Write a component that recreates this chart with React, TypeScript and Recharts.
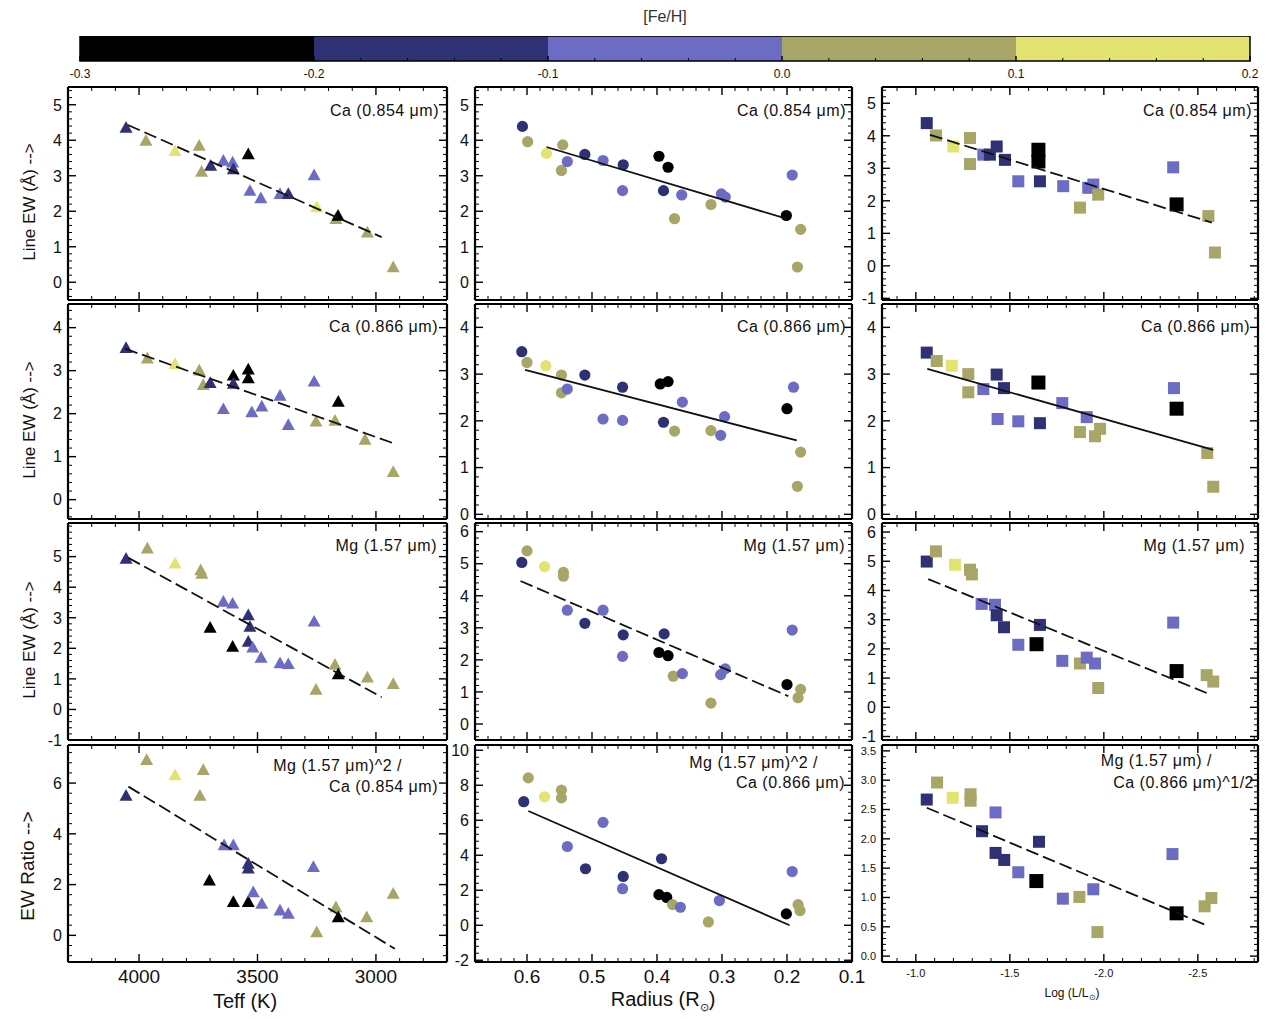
import React from 'react';
import { ScatterChart, Scatter, XAxis, YAxis, ReferenceArea } from 'recharts';

type P = [number, number, number]; // x, y, [Fe/H] bin index
type F = [number, number];

// ---------- [Fe/H] colour bins ----------
const FEH_COLORS = ['#000000', '#2e3274', '#6c6cc4', '#a8a667', '#e3e372'];
const FEH_EDGES = [-0.3, -0.2, -0.1, 0.0, 0.1, 0.2];
const FEH_TICKS = [-0.3, -0.2, -0.1, 0.0, 0.1, 0.2];

// ---------- x tick labels ----------
const TEFF_TICKS = [4000, 3500, 3000];
const RADIUS_TICKS = [0.6, 0.5, 0.4, 0.3, 0.2, 0.1];
const LUM_TICKS = [-1.0, -1.5, -2.0, -2.5];

// ---------- Row 1: Ca (0.854 um) ----------
const teffCa854: P[] = [
  [4055, 4.36, 1], [3971, 3.99, 3], [3848, 3.7, 4], [3746, 3.85, 3], [3736, 3.12, 3], [3698, 3.29, 1],
  [3644, 3.43, 2], [3605, 3.38, 2], [3602, 3.19, 1], [3539, 3.61, 0], [3532, 2.58, 2], [3486, 2.37, 2],
  [3405, 2.49, 2], [3370, 2.49, 1], [3261, 3.02, 2], [3250, 2.12, 4], [3169, 1.79, 3], [3160, 1.88, 0],
  [3036, 1.41, 3], [2927, 0.43, 3],
];
const radCa854: P[] = [
  [0.607, 4.39, 1], [0.599, 3.96, 3], [0.57, 3.63, 4], [0.545, 3.87, 3], [0.547, 3.15, 3], [0.538, 3.4, 2],
  [0.511, 3.6, 1], [0.483, 3.43, 2], [0.452, 3.31, 1], [0.453, 2.58, 2], [0.397, 3.55, 0], [0.383, 3.24, 0],
  [0.39, 2.58, 1], [0.362, 2.46, 2], [0.373, 1.79, 3], [0.317, 2.19, 3], [0.301, 2.49, 2], [0.295, 2.4, 2],
  [0.201, 1.88, 0], [0.192, 3.02, 2], [0.179, 1.49, 3], [0.184, 0.43, 3],
];
const lumCa854: P[] = [
  [-1.058, 4.39, 1], [-1.107, 4.01, 3], [-1.199, 3.67, 4], [-1.288, 3.93, 3], [-1.288, 3.13, 3], [-1.359, 3.42, 2],
  [-1.394, 3.42, 1], [-1.43, 3.67, 1], [-1.474, 3.26, 1], [-1.545, 2.6, 2], [-1.652, 3.57, 0], [-1.652, 3.21, 0],
  [-1.66, 2.6, 1], [-1.784, 2.45, 2], [-1.873, 1.79, 3], [-1.917, 2.4, 2], [-1.944, 2.5, 2], [-1.97, 2.19, 3],
  [-2.369, 3.03, 2], [-2.387, 1.89, 0], [-2.556, 1.53, 3], [-2.591, 0.41, 3],
];
const fitTeffCa854: F[] = [[4047, 4.43], [2976, 1.27]];
const fitRadCa854: F[] = [[0.57, 3.81], [0.201, 1.79]];
const fitLumCa854: F[] = [[-1.075, 4.03], [-2.574, 1.33]];

// ---------- Row 2: Ca (0.866 um) ----------
const teffCa866: P[] = [
  [4055, 3.53, 1], [3965, 3.29, 3], [3848, 3.16, 4], [3746, 3.01, 3], [3729, 2.67, 3], [3700, 2.72, 1],
  [3644, 2.11, 2], [3602, 2.89, 0], [3602, 2.7, 1], [3539, 3.03, 0], [3539, 2.83, 0], [3524, 2.04, 2],
  [3482, 2.17, 2], [3405, 2.42, 2], [3370, 1.74, 2], [3261, 2.75, 2], [3253, 1.82, 3], [3173, 1.84, 3],
  [3159, 2.28, 0], [3046, 1.4, 3], [2927, 0.65, 3],
];
const radCa866: P[] = [
  [0.608, 3.48, 1], [0.6, 3.25, 3], [0.571, 3.18, 4], [0.547, 2.98, 3], [0.547, 2.6, 3], [0.538, 2.68, 2],
  [0.511, 2.98, 1], [0.483, 2.04, 2], [0.453, 2.72, 1], [0.453, 2.01, 2], [0.395, 2.79, 0], [0.383, 2.84, 0],
  [0.39, 1.97, 1], [0.361, 2.4, 2], [0.373, 1.78, 3], [0.317, 1.79, 3], [0.296, 2.09, 2], [0.302, 1.69, 2],
  [0.2, 2.26, 0], [0.19, 2.72, 2], [0.179, 1.33, 3], [0.184, 0.6, 3],
];
const lumCa866: P[] = [
  [-1.058, 3.46, 1], [-1.111, 3.28, 3], [-1.191, 3.18, 4], [-1.279, 3.0, 3], [-1.279, 2.61, 3], [-1.359, 2.68, 2],
  [-1.43, 2.99, 1], [-1.469, 2.7, 1], [-1.435, 2.04, 2], [-1.545, 1.99, 2], [-1.652, 2.82, 0], [-1.66, 1.95, 1],
  [-1.779, 2.38, 2], [-1.873, 1.76, 3], [-1.909, 2.08, 2], [-1.953, 1.67, 3], [-1.98, 1.83, 3], [-2.373, 2.7, 2],
  [-2.387, 2.26, 0], [-2.55, 1.31, 3], [-2.582, 0.59, 3],
];
const fitTeffCa866: F[] = [[4059, 3.51], [2920, 1.3]];
const fitRadCa866: F[] = [[0.603, 3.09], [0.185, 1.58]];
const fitLumCa866: F[] = [[-1.061, 3.11], [-2.582, 1.38]];

// ---------- Row 3: Mg (1.57 um) ----------
const teffMg: P[] = [
  [4055, 4.94, 1], [3965, 5.27, 3], [3848, 4.78, 4], [3740, 4.56, 3], [3735, 4.45, 3], [3644, 3.53, 2],
  [3605, 3.47, 2], [3700, 2.68, 0], [3539, 3.09, 1], [3532, 2.71, 1], [3605, 2.06, 0], [3539, 2.22, 1],
  [3520, 2.03, 2], [3485, 1.7, 2], [3405, 1.52, 2], [3370, 1.49, 2], [3261, 2.88, 2], [3253, 0.65, 3],
  [3173, 1.47, 3], [3159, 1.16, 0], [3036, 1.05, 3], [2927, 0.84, 3],
];
const radMg: P[] = [
  [0.608, 5.04, 1], [0.6, 5.4, 3], [0.573, 4.91, 4], [0.544, 4.73, 3], [0.544, 4.61, 3], [0.538, 3.55, 2],
  [0.511, 3.14, 1], [0.483, 3.55, 2], [0.452, 2.78, 1], [0.453, 2.11, 2], [0.389, 2.81, 1], [0.397, 2.23, 0],
  [0.383, 2.13, 0], [0.375, 1.49, 3], [0.361, 1.57, 2], [0.317, 0.65, 3], [0.302, 1.54, 2], [0.295, 1.72, 2],
  [0.2, 1.23, 0], [0.192, 2.93, 2], [0.179, 1.08, 3], [0.183, 0.82, 3],
];
const lumMg: P[] = [
  [-1.058, 4.99, 1], [-1.107, 5.34, 3], [-1.208, 4.88, 4], [-1.288, 4.71, 3], [-1.298, 4.55, 3], [-1.35, 3.54, 2],
  [-1.421, 3.51, 2], [-1.43, 3.15, 1], [-1.469, 2.74, 1], [-1.545, 2.14, 2], [-1.66, 2.82, 1], [-1.642, 2.16, 0],
  [-1.779, 1.59, 2], [-1.873, 1.5, 3], [-1.909, 1.7, 2], [-1.953, 1.5, 2], [-1.97, 0.66, 3], [-2.369, 2.9, 2],
  [-2.387, 1.24, 0], [-2.547, 1.1, 3], [-2.582, 0.88, 3],
];
const fitTeffMg: F[] = [[4045, 4.96], [2976, 0.4]];
const fitRadMg: F[] = [[0.61, 4.46], [0.198, 0.87]];
const fitLumMg: F[] = [[-1.066, 4.39], [-2.547, 0.49]];

// ---------- Row 4: EW ratios ----------
const teffRatio: P[] = [
  [4055, 5.51, 1], [3968, 6.92, 3], [3848, 6.32, 4], [3729, 6.52, 3], [3743, 5.51, 3], [3703, 2.17, 0],
  [3641, 3.56, 2], [3602, 3.56, 2], [3539, 2.83, 1], [3539, 2.64, 1], [3602, 1.32, 0], [3539, 1.32, 0],
  [3518, 1.71, 2], [3482, 1.25, 2], [3405, 0.99, 2], [3370, 0.86, 2], [3264, 2.7, 2], [3250, 0.13, 3],
  [3169, 1.12, 3], [3159, 0.72, 0], [3039, 0.72, 3], [2927, 1.65, 3],
];
const radRatio: P[] = [
  [0.605, 7.06, 1], [0.598, 8.42, 3], [0.573, 7.34, 4], [0.547, 7.72, 3], [0.547, 7.28, 3], [0.538, 4.5, 2],
  [0.51, 3.23, 1], [0.483, 5.88, 2], [0.452, 2.79, 1], [0.453, 2.09, 2], [0.393, 3.8, 1], [0.397, 1.75, 0],
  [0.385, 1.59, 0], [0.376, 1.18, 3], [0.364, 1.03, 2], [0.321, 0.19, 3], [0.304, 1.41, 2], [0.201, 0.65, 0],
  [0.192, 3.07, 2], [0.183, 1.18, 3], [0.18, 0.84, 3],
];
const lumRatio: P[] = [
  [-1.058, 2.67, 1], [-1.113, 2.96, 3], [-1.196, 2.7, 4], [-1.291, 2.76, 3], [-1.291, 2.65, 3], [-1.424, 2.45, 2],
  [-1.352, 2.13, 1], [-1.424, 1.76, 1], [-1.47, 1.64, 1], [-1.545, 1.43, 2], [-1.655, 1.95, 1], [-1.641, 1.28, 0],
  [-1.782, 0.98, 2], [-1.87, 1.01, 3], [-1.944, 1.14, 2], [-1.966, 0.41, 3], [-2.365, 1.74, 2], [-2.387, 0.73, 0],
  [-2.536, 0.85, 3], [-2.572, 0.99, 3],
];
const fitTeffRatio: F[] = [[4045, 5.86], [2920, -0.53]];
const fitRadRatio: F[] = [[0.598, 6.53], [0.196, 0.0]];
const fitLumRatio: F[] = [[-1.058, 2.53], [-2.558, 0.51]];

// ---------- y tick labels ----------
const Y_R1 = [0, 1, 2, 3, 4, 5];
const Y_R1C3 = [-1, 0, 1, 2, 3, 4, 5];
const Y_R2 = [0, 1, 2, 3, 4];
const Y_R3C1 = [-1, 0, 1, 2, 3, 4, 5];
const Y_R3C2 = [0, 1, 2, 3, 4, 5, 6];
const Y_R3C3 = [-1, 0, 1, 2, 3, 4, 5, 6];
const Y_R4C1 = [0, 2, 4, 6];
const Y_R4C2 = [-2, 0, 2, 4, 6, 8, 10];
const Y_R4C3 = [0.0, 0.5, 1.0, 1.5, 2.0, 2.5, 3.0, 3.5];

// ================= layout & styling =================
const FONT = '"Liberation Sans", Arial, Helvetica, sans-serif';
const COLS = [
  { l: 68, r: 447, domain: [2700, 4300] as [number, number], majors: TEFF_TICKS, minor: 100, fmt: (v: number) => String(v), fs: 19, shape: 'tri' },
  { l: 475, r: 852, domain: [0.1, 0.68] as [number, number], majors: RADIUS_TICKS, minor: 0.02, fmt: (v: number) => v.toFixed(1), fs: 19, shape: 'circ' },
  { l: 882, r: 1258, domain: [-2.82, -0.82] as [number, number], majors: LUM_TICKS, minor: 0.1, fmt: (v: number) => v.toFixed(1), fs: 11, shape: 'sq' },
];
const ROWS = [
  { t: 87, b: 300 },
  { t: 304, b: 519 },
  { t: 523, b: 740 },
  { t: 745, b: 962 },
];

function allTicks(domain: [number, number], majors: number[], step: number): number[] {
  const [lo, hi] = domain;
  const out: number[] = [];
  const start = Math.ceil(lo / step - 1e-9);
  const end = Math.floor(hi / step + 1e-9);
  for (let i = start; i <= end; i++) out.push(+(i * step).toFixed(6));
  majors.forEach((m) => {
    if (m >= lo - 1e-9 && m <= hi + 1e-9 && !out.some((o) => Math.abs(o - m) < 1e-6)) out.push(m);
  });
  return out.sort((a, b) => a - b);
}

function makeTick(side: 'b' | 't' | 'l' | 'r', majors: number[], margin: number, fmt: ((v: number) => string) | null, fs = 16, majorLen = 8, minorLen = 4) {
  return (props: any) => {
    const { x, y, payload } = props;
    const v = payload.value as number;
    const isMajor = majors.some((m) => Math.abs(m - v) < 1e-6);
    const len = isMajor ? majorLen : minorLen;
    const sw = isMajor ? 1.4 : 1;
    let line: React.ReactNode = null;
    let label: React.ReactNode = null;
    if (side === 'b') {
      const ay = y - margin;
      line = <line x1={x} y1={ay} x2={x} y2={ay - len} stroke="#000" strokeWidth={sw} />;
      if (isMajor && fmt) label = <text x={x} y={ay + margin} dy="0.8em" textAnchor="middle" fontSize={fs} fill="#111" fontFamily={FONT}>{fmt(v)}</text>;
    } else if (side === 't') {
      line = <line x1={x} y1={y} x2={x} y2={y + len} stroke="#000" strokeWidth={sw} />;
    } else if (side === 'l') {
      const ax = x + margin;
      line = <line x1={ax} y1={y} x2={ax + len} y2={y} stroke="#000" strokeWidth={sw} />;
      if (isMajor && fmt) label = <text x={ax - margin} y={y} dy="0.36em" textAnchor="end" fontSize={fs} fill="#111" fontFamily={FONT}>{fmt(v)}</text>;
    } else {
      line = <line x1={x} y1={y} x2={x - len} y2={y} stroke="#000" strokeWidth={sw} />;
    }
    return <g>{line}{label}</g>;
  };
}

const triShape = (p: any) => {
  const { cx, cy, payload } = p;
  if (cx == null || cy == null) return <g />;
  const s = 6.5;
  return <polygon points={`${cx},${cy - s} ${cx - s},${cy + s * 0.8} ${cx + s},${cy + s * 0.8}`} fill={FEH_COLORS[payload.c]} />;
};
const circShape = (p: any) => {
  const { cx, cy, payload } = p;
  if (cx == null || cy == null) return <g />;
  return <circle cx={cx} cy={cy} r={5.6} fill={FEH_COLORS[payload.c]} />;
};
const sqShape = (p: any) => {
  const { cx, cy, payload } = p;
  if (cx == null || cy == null) return <g />;
  const h = payload.c === 0 ? 7 : 6;
  return <rect x={cx - h} y={cy - h} width={2 * h} height={2 * h} fill={FEH_COLORS[payload.c]} />;
};
const emptyShape = () => <g />;

const toPts = (a: P[]) => a.map(([x, y, c]) => ({ x, y, c }));
const toFit = (a: F[]) => a.map(([x, y]) => ({ x, y }));

interface PanelProps {
  row: number;
  col: number;
  pts: P[];
  fit: F[];
  yDomain: [number, number];
  yMajors: number[];
  yMinor: number;
  yFmt: (v: number) => string;
  yFs: number;
  dash: string;
}

function Panel({ row, col, pts, fit, yDomain, yMajors, yMinor, yFmt, yFs, dash }: PanelProps) {
  const c = COLS[col];
  const r = ROWS[row];
  const LW = 44, BH = 46, TH = 2, RW = 2, MR = 16;
  const w = c.r - c.l + LW + RW + MR;
  const h = r.b - r.t + TH + BH;
  const xTicks = allTicks(c.domain, c.majors, c.minor);
  const yTicks = allTicks(yDomain, yMajors, yMinor);
  const showX = row === 3;
  const shape = c.shape === 'tri' ? triShape : c.shape === 'circ' ? circShape : sqShape;
  const axisLine = { stroke: '#000', strokeWidth: 2.2 };
  return (
    <div style={{ position: 'absolute', left: c.l - LW, top: r.t - TH, width: w, height: h }}>
      <ScatterChart width={w} height={h} margin={{ top: 0, right: MR, bottom: 0, left: 0 }}>
        <XAxis xAxisId="b" type="number" dataKey="x" domain={c.domain} reversed allowDataOverflow ticks={xTicks} interval={0}
          orientation="bottom" height={BH} tickSize={0} tickMargin={6} tickLine={false} axisLine={axisLine}
          tick={makeTick('b', c.majors, 6, showX ? c.fmt : null, c.fs)} />
        <XAxis xAxisId="t" type="number" dataKey="x" domain={c.domain} reversed allowDataOverflow ticks={xTicks} interval={0}
          orientation="top" height={TH} tickSize={0} tickMargin={0} tickLine={false} axisLine={axisLine}
          tick={makeTick('t', c.majors, 0, null)} />
        <YAxis yAxisId="l" type="number" dataKey="y" domain={yDomain} allowDataOverflow ticks={yTicks} interval={0}
          orientation="left" width={LW} tickSize={0} tickMargin={6} tickLine={false} axisLine={axisLine}
          tick={makeTick('l', yMajors, 6, yFmt, yFs)} />
        <YAxis yAxisId="r" type="number" dataKey="y" domain={yDomain} allowDataOverflow ticks={yTicks} interval={0}
          orientation="right" width={RW} tickSize={0} tickMargin={0} tickLine={false} axisLine={axisLine}
          tick={makeTick('r', yMajors, 0, null)} />
        <Scatter xAxisId="b" yAxisId="l" data={toPts(pts)} shape={shape} isAnimationActive={false} />
        <Scatter xAxisId="t" yAxisId="r" data={toFit(fit)} shape={emptyShape} isAnimationActive={false}
          line={{ stroke: '#111', strokeWidth: 1.8, strokeDasharray: dash }} />
      </ScatterChart>
    </div>
  );
}

const DASH = '13 5';
const SOLID = '0';
const intFmt = (v: number) => String(v);
const decFmt = (v: number) => v.toFixed(1);

const PANELS: PanelProps[] = [
  { row: 0, col: 0, pts: teffCa854, fit: fitTeffCa854, yDomain: [-0.5, 5.5], yMajors: Y_R1, yMinor: 0.2, yFmt: intFmt, yFs: 16, dash: DASH },
  { row: 0, col: 1, pts: radCa854, fit: fitRadCa854, yDomain: [-0.5, 5.5], yMajors: Y_R1, yMinor: 0.2, yFmt: intFmt, yFs: 16, dash: SOLID },
  { row: 0, col: 2, pts: lumCa854, fit: fitLumCa854, yDomain: [-1.05, 5.5], yMajors: Y_R1C3, yMinor: 0.2, yFmt: intFmt, yFs: 16, dash: DASH },
  { row: 1, col: 0, pts: teffCa866, fit: fitTeffCa866, yDomain: [-0.45, 4.55], yMajors: Y_R2, yMinor: 0.2, yFmt: intFmt, yFs: 16, dash: DASH },
  { row: 1, col: 1, pts: radCa866, fit: fitRadCa866, yDomain: [-0.1, 4.5], yMajors: Y_R2, yMinor: 0.2, yFmt: intFmt, yFs: 16, dash: SOLID },
  { row: 1, col: 2, pts: lumCa866, fit: fitLumCa866, yDomain: [-0.1, 4.5], yMajors: Y_R2, yMinor: 0.2, yFmt: intFmt, yFs: 16, dash: SOLID },
  { row: 2, col: 0, pts: teffMg, fit: fitTeffMg, yDomain: [-1, 6.1], yMajors: Y_R3C1, yMinor: 0.2, yFmt: intFmt, yFs: 16, dash: DASH },
  { row: 2, col: 1, pts: radMg, fit: fitRadMg, yDomain: [-0.5, 6.27], yMajors: Y_R3C2, yMinor: 0.2, yFmt: intFmt, yFs: 16, dash: DASH },
  { row: 2, col: 2, pts: lumMg, fit: fitLumMg, yDomain: [-1.12, 6.31], yMajors: Y_R3C3, yMinor: 0.2, yFmt: intFmt, yFs: 16, dash: DASH },
  { row: 3, col: 0, pts: teffRatio, fit: fitTeffRatio, yDomain: [-1.05, 7.5], yMajors: Y_R4C1, yMinor: 0.4, yFmt: intFmt, yFs: 16, dash: DASH },
  { row: 3, col: 1, pts: radRatio, fit: fitRadRatio, yDomain: [-2.1, 10.3], yMajors: Y_R4C2, yMinor: 0.4, yFmt: intFmt, yFs: 16, dash: SOLID },
  { row: 3, col: 2, pts: lumRatio, fit: fitLumRatio, yDomain: [-0.1, 3.6], yMajors: Y_R4C3, yMinor: 0.1, yFmt: decFmt, yFs: 11, dash: DASH },
];

const ANNOTATIONS: { text: string; right: number; y: number }[] = [
  { text: 'Ca (0.854 \u03bcm)', right: 439, y: 111 },
  { text: 'Ca (0.854 \u03bcm)', right: 846, y: 111 },
  { text: 'Ca (0.854 \u03bcm)', right: 1252, y: 111 },
  { text: 'Ca (0.866 \u03bcm)', right: 438, y: 327 },
  { text: 'Ca (0.866 \u03bcm)', right: 846, y: 327 },
  { text: 'Ca (0.866 \u03bcm)', right: 1250, y: 327 },
  { text: 'Mg (1.57 \u03bcm)', right: 437, y: 546 },
  { text: 'Mg (1.57 \u03bcm)', right: 845, y: 546 },
  { text: 'Mg (1.57 \u03bcm)', right: 1245, y: 546 },
  { text: 'Mg (1.57 \u03bcm)^2 /', right: 402, y: 766 },
  { text: 'Ca (0.854 \u03bcm)', right: 438, y: 787 },
  { text: 'Mg (1.57 \u03bcm)^2 /', right: 818, y: 763 },
  { text: 'Ca (0.866 \u03bcm)', right: 845, y: 783 },
  { text: 'Mg (1.57 \u03bcm) /', right: 1212, y: 761 },
  { text: 'Ca (0.866 \u03bcm)^1/2', right: 1254, y: 783 },
];

function ColorBar() {
  const L = 80, R = 1250, T = 36, H = 25;
  const padX = 30, BH = 30;
  const w = R - L + 2 * padX;
  const ticks = allTicks([-0.3, 0.2], FEH_TICKS, 0.02);
  return (
    <div style={{ position: 'absolute', left: L - padX, top: T, width: w, height: H + BH }}>
      <ScatterChart width={w} height={H + BH} margin={{ top: 0, right: padX, bottom: 0, left: padX }}>
        <XAxis xAxisId="b" type="number" dataKey="x" domain={[-0.3, 0.2]} allowDataOverflow ticks={ticks} interval={0}
          height={BH} tickSize={0} tickMargin={7} tickLine={false} axisLine={false}
          tick={makeTick('b', FEH_TICKS, 7, (v) => v.toFixed(1), 12, 5, 3)} />
        <YAxis yAxisId="l" type="number" dataKey="y" domain={[0, 1]} hide />
        {FEH_COLORS.map((col, i) => (
          <ReferenceArea key={i} xAxisId="b" yAxisId="l" x1={FEH_EDGES[i]} x2={FEH_EDGES[i + 1]} y1={0} y2={1}
            fill={col} fillOpacity={1} stroke="none" ifOverflow="visible" />
        ))}
        <ReferenceArea xAxisId="b" yAxisId="l" x1={-0.3} x2={0.2} y1={0} y2={1} fill="none" fillOpacity={0}
          stroke="#000" strokeWidth={1.5} ifOverflow="visible" />
        <Scatter xAxisId="b" yAxisId="l" data={[{ x: -0.3, y: 0 }, { x: 0.2, y: 1 }]} shape={emptyShape} isAnimationActive={false} />
      </ScatterChart>
    </div>
  );
}

export default function App() {
  return (
    <div style={{ position: 'absolute', left: 0, top: 0, width: 1266, height: 1019, background: '#fff', fontFamily: FONT, overflow: 'hidden' }}>
      <div style={{ position: 'absolute', left: 565, top: 8, width: 200, textAlign: 'center', fontSize: 16, color: '#333' }}>[Fe/H]</div>
      <ColorBar />
      {PANELS.map((p, i) => <Panel key={i} {...p} />)}
      {ANNOTATIONS.map((a, i) => (
        <div key={i} style={{ position: 'absolute', right: 1266 - a.right, top: a.y - 9, fontSize: 16, lineHeight: '18px', whiteSpace: 'nowrap', color: '#111', letterSpacing: 0.5 }}>{a.text}</div>
      ))}
      {[0, 1, 2].map((r) => (
        <div key={r} style={{ position: 'absolute', left: 30 - 150, top: (ROWS[r].t + ROWS[r].b) / 2 + 8 - 11, width: 300, height: 22, lineHeight: '22px', textAlign: 'center', transform: 'rotate(-90deg)', fontSize: 17, color: '#111', whiteSpace: 'nowrap' }}>
          Line EW (Å) --&gt;
        </div>
      ))}
      <div style={{ position: 'absolute', left: 28 - 150, top: 866 - 12, width: 300, height: 24, lineHeight: '24px', textAlign: 'center', transform: 'rotate(-90deg)', fontSize: 19, color: '#111', whiteSpace: 'nowrap' }}>
        EW Ratio --&gt;
      </div>
      <div style={{ position: 'absolute', left: 245 - 100, top: 990, width: 200, textAlign: 'center', fontSize: 20, color: '#111' }}>Teff (K)</div>
      <div style={{ position: 'absolute', left: 663 - 120, top: 988, width: 240, textAlign: 'center', fontSize: 20, color: '#111' }}>
        Radius (R<sub style={{ fontSize: 11 }}>⊙</sub>)
      </div>
      <div style={{ position: 'absolute', left: 1072 - 100, top: 986, width: 200, textAlign: 'center', fontSize: 12, color: '#111' }}>
        Log (L/L<sub style={{ fontSize: 8 }}>⊙</sub>)
      </div>
    </div>
  );
}
